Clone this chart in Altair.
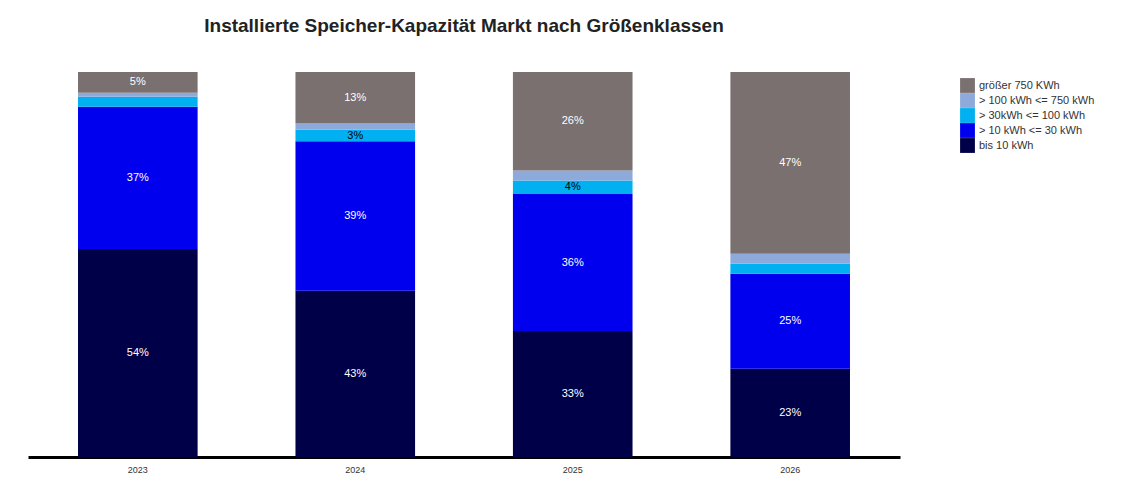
import altair as alt
import pandas as pd

years = ["2023", "2024", "2025", "2026"]
classes = ["bis 10 kWh", "> 10 kWh <= 30 kWh", "> 30kWh <= 100 kWh", "> 100 kWh <= 750 kWh", "größer 750 KWh"]
colors = ["#000048", "#0000ee", "#00b0f0", "#8eaadb", "#7a7070"]
shares = {
    "bis 10 kWh": [54.0, 43.2, 32.7, 22.9],
    "> 10 kWh <= 30 kWh": [37.0, 38.8, 35.6, 24.7],
    "> 30kWh <= 100 kWh": [2.6, 3.0, 3.5, 2.6],
    "> 100 kWh <= 750 kWh": [1.0, 1.6, 2.6, 2.6],
    "größer 750 KWh": [5.4, 13.4, 25.6, 47.2],
}

rows = []
for ci, c in enumerate(classes):
    for yi, y in enumerate(years):
        v = shares[c][yi]
        rows.append({"Jahr": y, "Klasse": c, "Anteil": v, "order": ci,
                     "label": f"{round(v)}%" if v >= 3 else "",
                     "dark": c == "> 30kWh <= 100 kWh"})
df = pd.DataFrame(rows)

base = alt.Chart(df).encode(
    x=alt.X("Jahr:N", title=None, scale=alt.Scale(paddingInner=0.45, paddingOuter=0.23),
            axis=alt.Axis(labelAngle=0, ticks=False, domainColor="black", domainWidth=3,
                          labelFontSize=9, labelColor="#333", labelPadding=8)),
    y=alt.Y("Anteil:Q", stack="zero", axis=None, scale=alt.Scale(domain=[0, 100], nice=False)),
    order=alt.Order("order:Q"),
)

bars = base.mark_bar().encode(
    color=alt.Color("Klasse:N", sort=classes[::-1],
                    scale=alt.Scale(domain=classes[::-1], range=colors[::-1]),
                    legend=alt.Legend(title=None, orient="none", legendX=932, legendY=6,
                                      symbolType="square", symbolSize=220, symbolStrokeWidth=0,
                                      rowPadding=0, labelFontSize=11, labelColor="#333",
                                      symbolOpacity=1)),
)

labels = base.mark_text(fontSize=11).encode(
    y=alt.Y("mid:Q", scale=alt.Scale(domain=[0, 100], nice=False), axis=None),
    text="label:N",
    color=alt.condition("datum.dark", alt.value("black"), alt.value("white")),
).transform_stack(
    stack="Anteil", groupby=["Jahr"], as_=["lo", "hi"], sort=[alt.SortField("order")]
).transform_calculate(mid="(datum.lo + datum.hi) / 2")

chart = (bars + labels).properties(
    width=872, height=385,
    autosize=alt.AutoSizeParams(type="none"),
    padding={"left": 20, "top": 64, "right": 200, "bottom": 30},
    title=alt.TitleParams("Installierte Speicher-Kapazität Markt nach Größenklassen",
                          fontSize=19, fontWeight="bold", color="#222", offset=36,
                          anchor="middle", font="Liberation Sans"),
).configure(font="Liberation Sans").configure_view(stroke=None, strokeWidth=0)

chart.save("out.html", embed_options={"renderer": "svg", "actions": False})
